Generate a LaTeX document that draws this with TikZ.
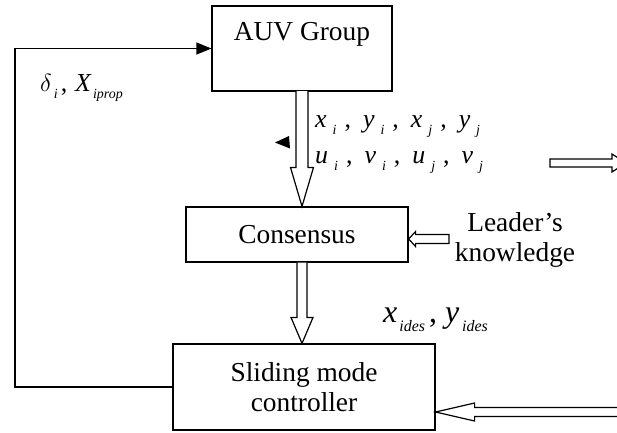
\documentclass[tikz,border=0pt]{standalone}
\usepackage{fontspec}
\setmainfont{Liberation Serif}
\usetikzlibrary{arrows.meta,calc}
\newcommand{\sv}[4][14]{{\itshape #3}\hspace{#2}\raisebox{-0.3em}{\fontsize{#1}{#1}\selectfont\itshape #4}}
\newcommand{\gap}{\hspace{8bp},\hspace{12bp}}
\begin{document}
\begin{tikzpicture}[x=1bp,y=-1bp,
  box/.style={draw, line width=1.2bp, inner sep=0pt, align=center,
    font=\fontsize{27.5}{30}\selectfont},
  hollow/.style={draw, line width=1.2bp, fill=white, line join=miter},
  feed/.style={draw, line width=1.2bp, -{Triangle[length=15bp,width=12bp]}},
  lbl/.style={inner sep=0pt, anchor=base west},
  txt/.style={inner sep=0pt, align=center, font=\fontsize{27.5}{30}\selectfont}]
\useasboundingbox (0,0) rectangle (617,432);
\clip (0,0) rectangle (617,432);
% blocks
\node[box, minimum width=180bp, minimum height=85bp] (auv) at (302,48.5) {};
\node[txt] (auvt) at (302,34) {AUV Group};
\node[box, minimum width=222bp, minimum height=55bp] (cons) at (297,234.5) {Consensus};
\node[box, minimum width=262bp, minimum height=86bp] (smc) at (304,387) {Sliding mode\\controller};
% feedback loop
\coordinate (fb1) at (15,387);
\coordinate (fb2) at (15,48.5);
\draw[feed] (smc.west) -- (fb1) -- (fb2) -- (auv.west);
% hollow arrow AUV -> Consensus
\coordinate (a1) at (302,91);
\coordinate (t1) at (a1 |- cons.north);
\draw[hollow] ($(a1)+(-6,0)$) -- ($(t1)+(-6,-39)$) -- ++(-5.5,0) -- (t1)
  -- ++(11.5,-39) -- ++(-5.5,0) -- ($(a1)+(6,0)$);
% hollow arrow Consensus -> SMC
\coordinate (a2) at (a1 |- cons.south);
\coordinate (t2) at (a1 |- smc.north);
\draw[hollow] ($(a2)+(-5,0)$) -- ($(t2)+(-5,-26)$) -- ++(-6,0) -- (t2)
  -- ++(11,-26) -- ++(-6,0) -- ($(a2)+(5,0)$);
% leader's knowledge arrow
\coordinate (lk) at (449,239);
\coordinate (t3) at (cons.east |- lk);
\draw[hollow] ($(lk)+(0,-4.5)$) -- ($(t3)+(7,-4.5)$) -- ++(0,-3) -- (t3)
  -- ++(7,7.5) -- ++(0,-3) -- ($(lk)+(0,4.5)$) -- cycle;
% bottom right input arrow
\coordinate (in1) at (625,412);
\coordinate (t4) at (smc.east |- in1);
\draw[hollow] ($(in1)+(0,-4.5)$) -- ($(t4)+(39,-4.5)$) -- ++(0,-4.5) -- (t4)
  -- ++(39,9) -- ++(0,-4.5) -- ($(in1)+(0,4.5)$);
% top right output arrow
\coordinate (o1) at (550,163);
\coordinate (o2) at (626,163);
\draw[hollow] ($(o1)+(0,-4)$) -- ($(o2)+(-14,-4)$) -- ++(0,-5) -- (o2)
  -- ++(-14,9) -- ++(0,-5) -- ($(o1)+(0,4)$) -- cycle;
% stray arrowhead
\fill (289,136) -- (275,142.5) -- (290,148.5) -- cycle;
% labels
\node[lbl, font=\fontsize{26}{26}\selectfont] (lfb) at (40,91)
  {\sv{2bp}{$\delta$}{i}\hspace{3bp},\hspace{8bp}\sv{2bp}{X}{iprop}};
\node[lbl, font=\fontsize{26}{26}\selectfont] (lxy) at (315,127)
  {\sv{6bp}{x}{i}\gap\sv{6bp}{y}{i}\gap\sv{6bp}{x}{j}\gap\sv{6bp}{y}{j}};
\node[lbl, font=\fontsize{26}{26}\selectfont] (luv) at (315,163)
  {\sv{6bp}{u}{i}\gap\sv{6bp}{v}{i}\gap\sv{6bp}{u}{j}\gap\sv{6bp}{v}{j}};
\node[lbl, font=\fontsize{32}{32}\selectfont] (ldes) at (383,322)
  {\sv[16]{2bp}{x}{ides}\hspace{4bp},\hspace{8bp}\sv[16]{3bp}{y}{ides}};
\node[txt] (lead) at (515,240) {Leader's\\knowledge};
\end{tikzpicture}
\end{document}
